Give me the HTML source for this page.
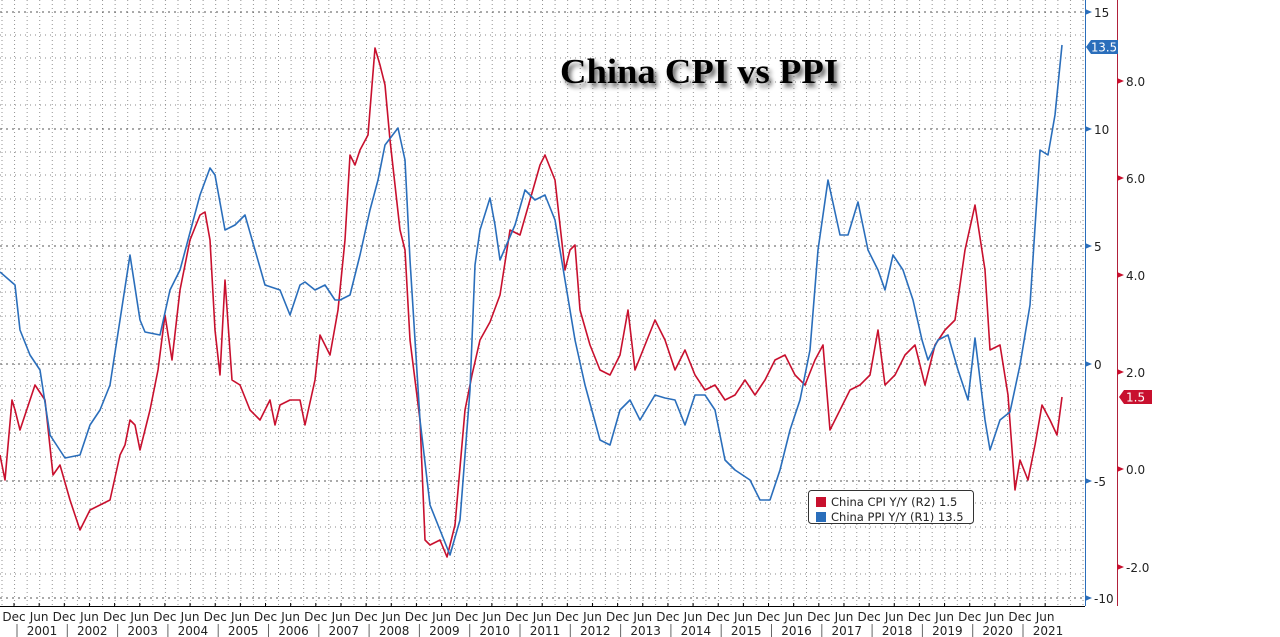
<!DOCTYPE html>
<html><head><meta charset="utf-8"><style>
html,body{margin:0;padding:0;background:#fff;width:1280px;height:637px;overflow:hidden}
svg{display:block}
text{font-family:"DejaVu Sans","Liberation Sans",sans-serif}
</style></head><body>
<svg width="1280" height="637" viewBox="0 0 1280 637" xmlns="http://www.w3.org/2000/svg">
<defs>
<pattern id="vg" x="1.5" y="0" width="12.57" height="4" patternUnits="userSpaceOnUse"><rect x="0" y="0" width="1" height="1" fill="#777"/></pattern>
<filter id="sh" x="-10%" y="-30%" width="130%" height="170%"><feGaussianBlur in="SourceAlpha" stdDeviation="2.5"/><feOffset dx="3" dy="4"/><feComponentTransfer><feFuncA type="linear" slope="0.6"/></feComponentTransfer><feMerge><feMergeNode/><feMergeNode in="SourceGraphic"/></feMerge></filter>
</defs>
<rect x="0" y="0" width="1085" height="606" fill="url(#vg)" opacity="0.8"/>
<g stroke="#888" stroke-width="1" stroke-dasharray="1,4">
<line x1="0" y1="35" x2="1085" y2="35"/><line x1="0" y1="58" x2="1085" y2="58"/><line x1="0" y1="82" x2="1085" y2="82"/><line x1="0" y1="105" x2="1085" y2="105"/><line x1="0" y1="152" x2="1085" y2="152"/><line x1="0" y1="175" x2="1085" y2="175"/><line x1="0" y1="199" x2="1085" y2="199"/><line x1="0" y1="222" x2="1085" y2="222"/><line x1="0" y1="269" x2="1085" y2="269"/><line x1="0" y1="292" x2="1085" y2="292"/><line x1="0" y1="316" x2="1085" y2="316"/><line x1="0" y1="339" x2="1085" y2="339"/><line x1="0" y1="386" x2="1085" y2="386"/><line x1="0" y1="410" x2="1085" y2="410"/><line x1="0" y1="433" x2="1085" y2="433"/><line x1="0" y1="457" x2="1085" y2="457"/><line x1="0" y1="503" x2="1085" y2="503"/><line x1="0" y1="527" x2="1085" y2="527"/><line x1="0" y1="550" x2="1085" y2="550"/><line x1="0" y1="574" x2="1085" y2="574"/>
</g>
<g stroke="#555" stroke-width="1" stroke-dasharray="2,4">
<line x1="0" y1="12" x2="1085" y2="12"/><line x1="0" y1="129" x2="1085" y2="129"/><line x1="0" y1="246" x2="1085" y2="246"/><line x1="0" y1="364" x2="1085" y2="364"/><line x1="0" y1="481" x2="1085" y2="481"/><line x1="0" y1="598" x2="1085" y2="598"/>
</g>
<text x="560" y="83" font-weight="bold" font-size="35" textLength="278" lengthAdjust="spacingAndGlyphs" fill="#000" filter="url(#sh)" style="font-family:'Liberation Serif',serif">China CPI vs PPI</text>
<polyline fill="none" stroke="#c8102e" stroke-width="1.6" stroke-linejoin="round" points="0,455 5,480 12,400 15,410 20,430 30,400 35,385 45,400 53,475 60,465 70,500 80,530 90,510 100,505 110,500 120,455 125,445 130,420 135,425 140,450 150,410 158,370 165,315 172,360 180,290 190,240 200,215 205,212 210,240 215,330 220,375 225,280 232,380 240,385 250,410 260,420 270,400 275,425 280,405 290,400 300,400 305,425 315,380 320,335 330,355 338,310 345,240 350,155 355,165 360,150 368,135 375,48 380,65 385,85 390,140 400,230 405,250 410,340 420,420 425,540 430,545 440,540 447,557 455,525 465,410 472,375 480,340 490,322 500,295 510,230 520,235 530,200 540,165 545,155 555,180 565,270 570,250 575,245 580,310 590,345 600,370 610,375 620,355 628,310 635,370 645,345 655,320 665,340 675,370 685,350 695,375 705,390 715,385 725,400 735,395 745,380 755,395 765,380 775,360 785,355 795,375 805,385 815,360 823,345 830,430 840,410 850,390 860,385 870,375 878,330 885,385 895,375 905,355 915,345 925,385 935,345 945,330 955,320 965,250 975,205 985,270 990,350 1000,345 1008,395 1015,490 1020,460 1028,480 1035,445 1042,405 1050,420 1057,435 1062,397"/>
<polyline fill="none" stroke="#2a6ebb" stroke-width="1.6" stroke-linejoin="round" points="0,272 15,285 20,330 30,355 40,370 50,435 65,458 80,455 90,425 100,410 110,385 120,320 130,255 140,320 145,332 160,335 170,290 180,270 200,195 210,168 215,175 225,230 235,225 245,215 255,250 265,285 280,290 290,315 300,285 305,282 315,290 325,285 335,300 340,300 350,295 360,255 370,210 378,180 385,145 398,128 405,160 410,260 420,420 430,505 440,530 450,555 460,520 470,390 475,265 480,230 490,198 495,225 500,260 515,225 525,190 535,200 545,195 555,220 565,280 575,340 585,385 600,440 610,445 620,410 630,400 640,420 655,395 665,398 675,400 685,425 695,395 705,395 715,410 725,460 735,470 750,480 760,500 770,500 780,470 790,430 800,400 810,350 818,250 828,180 840,235 848,235 858,202 868,250 878,270 885,290 893,255 903,270 913,300 922,340 928,360 938,340 948,335 958,370 968,400 975,338 985,420 990,450 1000,420 1010,412 1020,365 1030,305 1040,150 1048,155 1055,115 1062,45"/>
<line x1="0" y1="606.5" x2="1085" y2="606.5" stroke="#000"/>
<line x1="1085.5" y1="0" x2="1085.5" y2="606" stroke="#2a6ebb" stroke-width="1"/>
<line x1="1117.5" y1="0" x2="1117.5" y2="606" stroke="#b0203a" stroke-width="1"/>
<g fill="#2a6ebb">
<polygon points="1085,9 1092,12 1085,15"/><polygon points="1085,126 1092,129 1085,132"/><polygon points="1085,243 1092,246 1085,249"/><polygon points="1085,361 1092,364 1085,367"/><polygon points="1085,478 1092,481 1085,484"/><polygon points="1085,595 1092,598 1085,601"/>
</g>
<g fill="#c8102e">
<polygon points="1117,78 1124,81 1117,84"/><polygon points="1117,175 1124,178 1117,181"/><polygon points="1117,272 1124,275 1117,278"/><polygon points="1117,369 1124,372 1117,375"/><polygon points="1117,466 1124,469 1117,472"/><polygon points="1117,564 1124,567 1117,570"/>
</g>
<g font-size="12" fill="#222">
<text x="1094" y="17">15</text><text x="1094" y="134">10</text><text x="1094" y="251">5</text><text x="1094" y="369">0</text><text x="1094" y="486">-5</text><text x="1094" y="603">-10</text>
<text x="1126" y="86">8.0</text><text x="1126" y="183">6.0</text><text x="1126" y="280">4.0</text><text x="1126" y="377">2.0</text><text x="1126" y="474">0.0</text><text x="1126" y="572">-2.0</text>
</g>
<polygon points="1086,47 1091,40 1118,40 1118,54 1091,54" fill="#2a6ebb"/>
<text x="1091" y="51.5" font-size="12" fill="#fff" textLength="26" lengthAdjust="spacingAndGlyphs">13.5</text>
<polygon points="1119,397 1124,390 1152,390 1152,404 1124,404" fill="#c8102e"/>
<text x="1126" y="401.5" font-size="12" fill="#fff">1.5</text>
<rect x="808.5" y="490.5" width="165" height="33" rx="3" fill="#fff" stroke="#333"/>
<rect x="816" y="497" width="10" height="10" fill="#c8102e"/>
<rect x="816" y="512" width="10" height="10" fill="#2a6ebb"/>
<g font-size="11.5" fill="#222"><text x="831" y="506">China CPI Y/Y (R2)  1.5</text><text x="831" y="521">China PPI Y/Y (R1)  13.5</text></g>
<g stroke="#000" stroke-width="1" id="ticks"></g>
<g font-size="12" fill="#222" text-anchor="middle" id="xl"></g>
</svg>
<script>
(function(){var ns="http://www.w3.org/2000/svg",t=document.getElementById("ticks"),xl=document.getElementById("xl");
for(var i=0;i<=41;i++){var x=14+i*25.15;var l=document.createElementNS(ns,"line");l.setAttribute("x1",x);l.setAttribute("x2",x);l.setAttribute("y1",603);l.setAttribute("y2",606);t.appendChild(l);
var s=document.createElementNS(ns,"text");s.setAttribute("x",x);s.setAttribute("y",621);s.textContent=i%2?"Jun":"Dec";xl.appendChild(s);}
for(var y=0;y<21;y++){var x0=14+y*50.3;var l=document.createElementNS(ns,"line");l.setAttribute("x1",x0+3);l.setAttribute("x2",x0+3);l.setAttribute("y1",624);l.setAttribute("y2",637);l.setAttribute("stroke","#666");t.appendChild(l);
var s=document.createElementNS(ns,"text");s.setAttribute("x",x0+28);s.setAttribute("y",635);s.textContent=2001+y;xl.appendChild(s);}
var l=document.createElementNS(ns,"line");l.setAttribute("x1",1023);l.setAttribute("x2",1023);l.setAttribute("y1",624);l.setAttribute("y2",637);l.setAttribute("stroke","#666");t.appendChild(l);
})();
</script>
</body></html>
